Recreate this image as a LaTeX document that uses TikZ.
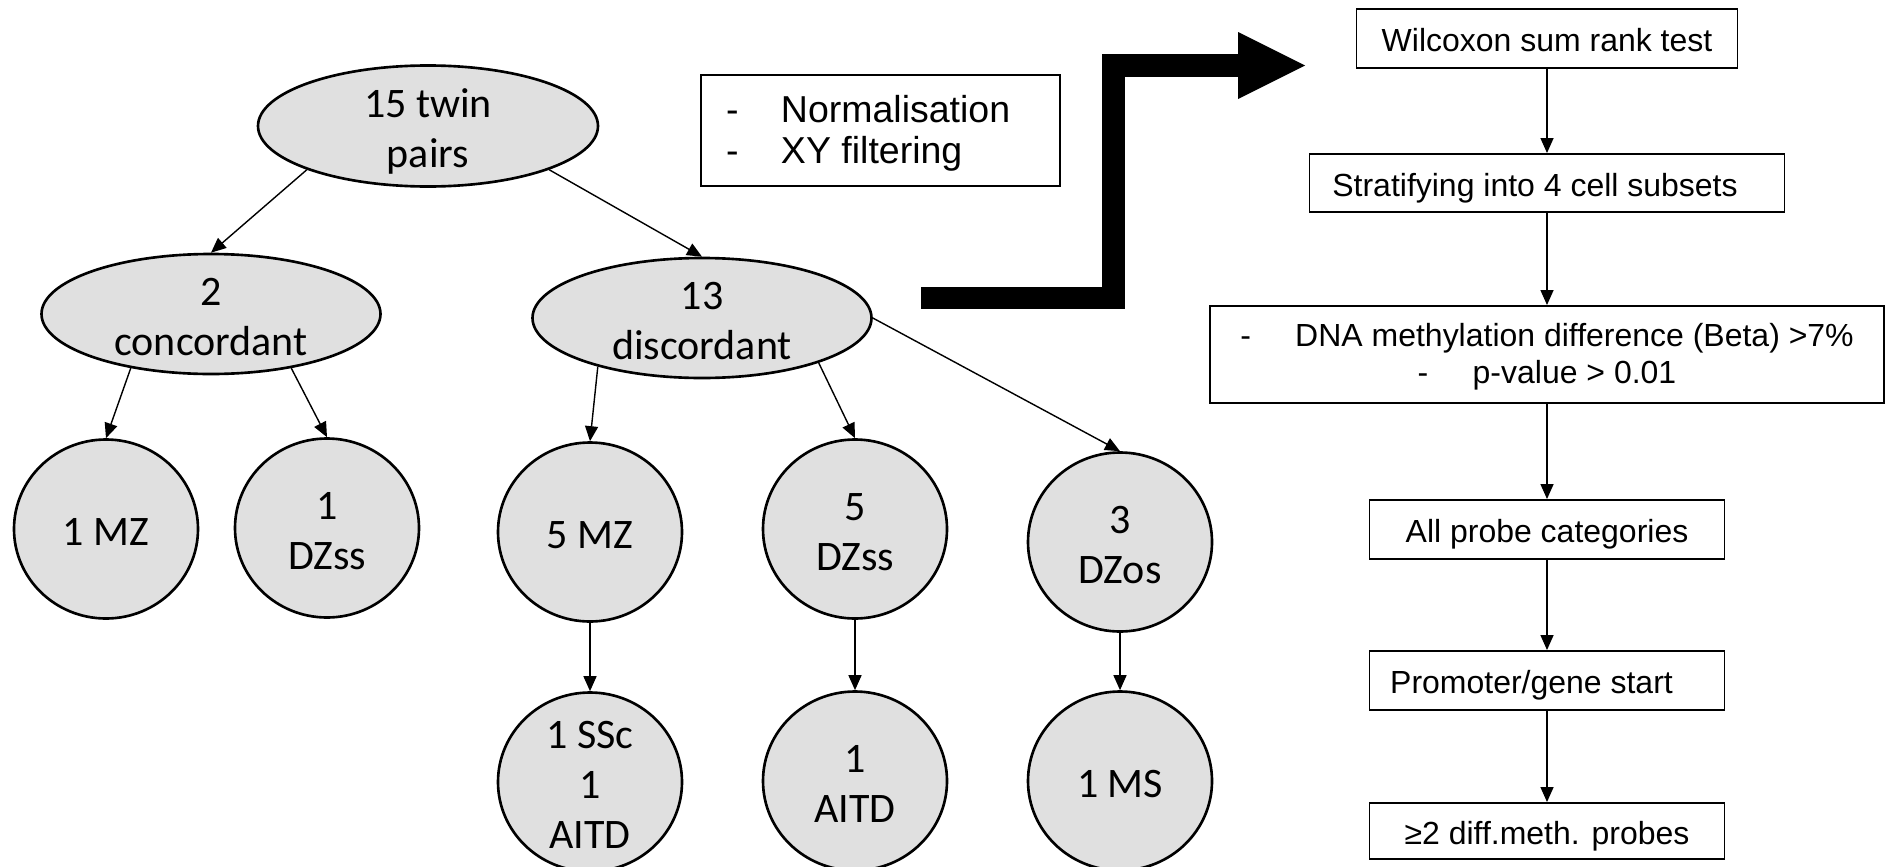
\documentclass[tikz,border=0pt]{standalone}
\usepackage{fontspec}
\setmainfont{Carlito}
\newfontfamily\arialfont{Liberation Sans}
\usepackage{tikz}
\usetikzlibrary{shapes.geometric,arrows.meta,positioning}
\definecolor{twingray}{RGB}{224,224,224}

% text lines of a node, set a little below its centre
\newcommand{\celltext}[3][c]{\raisebox{#2}[0pt][0pt]{\begin{tabular}{@{}#1@{}}#3\end{tabular}}}
\newcommand{\twintext}[1]{\celltext{-0.17cm}{#1}}

\begin{document}
\begin{tikzpicture}[
    twin/.style={ellipse, draw, line width=0.75pt, fill=twingray, inner sep=0pt, font=\fontsize{11.95}{14.3}\selectfont},
    group/.style={twin, minimum width=3.39cm, minimum height=1.2cm},
    subgroup/.style={twin, minimum width=1.84cm, minimum height=1.79cm},
    stepbox/.style={rectangle, draw, line width=0.55pt, inner sep=0pt, minimum width=#1, minimum height=0.59cm, text height=0.31cm, text depth=0.05cm, font=\arialfont\fontsize{9.1}{10.4}\selectfont},
    stepbox/.default=3.55cm,
    tree/.style={-{Triangle[length=0.15cm,width=0.13cm]}, line width=0.4pt},
]
    \useasboundingbox (0,0) rectangle (18.88,-8.66);
    \clip (0,0) rectangle (18.88,-8.66);

    % Twin pairs and their split
    \node[group, minimum width=3.40cm, minimum height=1.21cm] (pairs) at (4.28,-1.26) {\twintext{15 twin\\pairs}};
    \node[group] (conc) at (2.11,-3.14) {\twintext{2\\concordant}};
    \node[group] (disc) at (7.02,-3.18) {\twintext{13\\discordant}};

    % Zygosity groups
    \node[subgroup] (mz1) at (1.06,-5.29) {\twintext{1 MZ}};
    \node[subgroup] (dzss1) at (3.27,-5.28) {\twintext{1\\DZss}};
    \node[subgroup] (mz5) at (5.90,-5.32) {\twintext{5 MZ}};
    \node[subgroup] (dzss5) at (8.55,-5.29) {\twintext{5\\DZss}};
    \node[subgroup] (dzos) at (11.20,-5.42) {\twintext{3\\DZos}};

    % Diseases
    \node[subgroup] (ssc) at (5.90,-7.82) {\twintext{1 SSc\\1\\AITD}};
    \node[subgroup] (aitd) at (8.55,-7.81) {\twintext{1\\AITD}};
    \node[subgroup] (ms) at (11.20,-7.81) {\twintext{1 MS}};

    \draw[tree] (pairs.south west) -- (conc.north);
    \draw[tree] (pairs.south east) -- (disc.north);
    \draw[tree] (conc.-146) -- (mz1.north);
    \draw[tree] (conc.-34) -- (dzss1.north);
    \draw[tree] (disc.-155) -- (mz5.north);
    \draw[tree] (disc.-21) -- (dzss5.north);
    \draw[tree] (disc.east) -- (dzos.north);
    \draw[tree] (mz5) -- (ssc);
    \draw[tree] (dzss5) -- (aitd);
    \draw[tree] (dzos) -- (ms);

    % Preprocessing
    \node[rectangle, draw, line width=0.55pt, inner sep=0pt, minimum width=3.59cm, minimum height=1.11cm, font=\arialfont\fontsize{10.67}{11.7}\selectfont] (prep) at (8.805,-1.305) {\celltext[p{3.09cm}]{-0.14cm}{\makebox[0.55cm][l]{-}Normalisation\\ \makebox[0.55cm][l]{-}XY filtering}};

    % Big bent arrow
    \coordinate (bendstart) at (9.21,-2.98);
    \coordinate (bendtip) at (13.05,-0.655);
    \draw[line width=0.225cm, -{Triangle[length=0.67cm,width=0.67cm,line width=0pt]}] (bendstart) -| (11.135,-0.655) -- (bendtip);

    % Analysis steps
    \node[stepbox=3.81cm] (wilcoxon) at (15.47,-0.385) {Wilcoxon sum rank test};
    \node[stepbox=4.75cm, minimum height=0.58cm] (stratify) at (15.47,-1.83) {Stratifying into 4 cell subsets\hspace*{0.24cm}};
    \node[stepbox=6.74cm, minimum height=0.97cm, text height=, text depth=] (methdiff) at (15.47,-3.545) {\celltext{-0.113cm}{\makebox[0.55cm][l]{-}DNA methylation difference (Beta) >7\%\\ \makebox[0.55cm][l]{-}p-value > 0.01}};
    \node[stepbox] (probes) at (15.47,-5.295) {All probe categories};
    \node[stepbox] (promoter) at (15.47,-6.805) {Promoter/gene start\hspace*{0.31cm}};
    \node[stepbox, minimum height=0.56cm] (diffprobes) at (15.47,-8.31) {≥2 diff.meth. probes};

    \draw[tree] (wilcoxon) -- (stratify);
    \draw[tree] (stratify) -- (methdiff);
    \draw[tree] (methdiff) -- (probes);
    \draw[tree] (probes) -- (promoter);
    \draw[tree] (promoter) -- (diffprobes);
\end{tikzpicture}
\end{document}
